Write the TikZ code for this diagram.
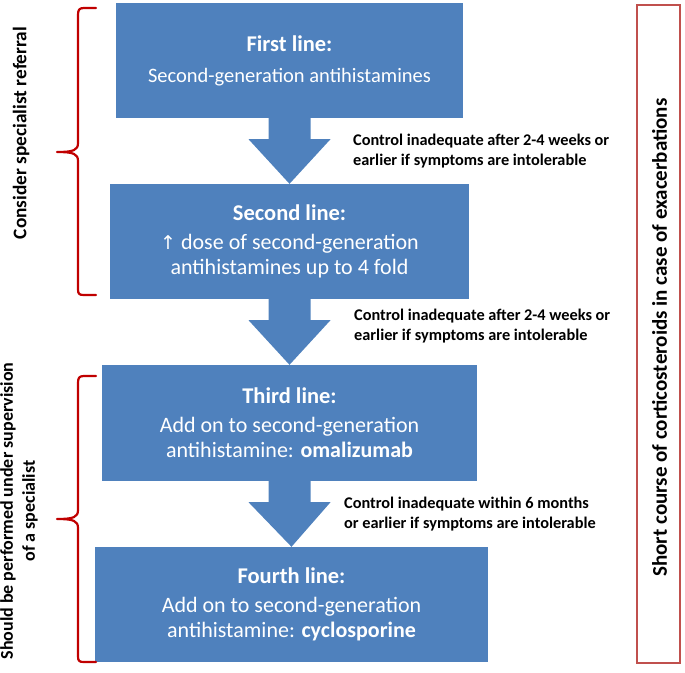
\documentclass[tikz,border=0pt]{standalone}
\usepackage{fontspec}
\setmainfont{Carlito}
\newfontfamily\symfont{DejaVu Sans}
\usetikzlibrary{calc}
\definecolor{boxblue}{HTML}{4F81BD}
\definecolor{brred}{HTML}{C00000}
\definecolor{frred}{HTML}{C0504D}
\newcommand{\hdr}[1]{{\bfseries\fontsize{22.5}{26}\selectfont #1}}
\begin{document}
\begin{tikzpicture}[x=1pt,y=-1pt,
  stagebox/.style={fill=boxblue,draw=none,text=white,align=center,inner sep=0pt,
    font=\fontsize{22}{25}\selectfont},
  blockarrow/.style={fill=boxblue,draw=none},
  steplabel/.style={anchor=west,align=left,inner sep=0pt,
    font=\bfseries\fontsize{16.3}{19.5}\selectfont},
  sidelabel/.style={rotate=90,align=center,inner sep=0pt},
  brace/.style={draw=brred,line width=2.2pt,line cap=round,line join=round}]
\useasboundingbox (0,0) rectangle (685,672);

% boxes
\node[stagebox,minimum width=347pt,minimum height=115pt,font=\fontsize{20.5}{25}\selectfont] (b1) at (289.5,60.5)
  {\hdr{First line:}\\[6pt]Second-generation antihistamines};
\node[stagebox,minimum width=359pt,minimum height=115pt] (b2) at (289.5,241.5)
  {\hdr{Second line:}\\[4pt]{\symfont\fontsize{19}{22}\selectfont ↑} dose of second-generation\\antihistamines up to 4 fold};
\node[stagebox,minimum width=375pt,minimum height=116pt] (b3) at (289.5,423)
  {\hdr{Third line:}\\[4pt]Add on to second-generation\\antihistamine: \textbf{omalizumab}};
\node[stagebox,minimum width=393pt,minimum height=115pt] (b4) at (291.5,604.5)
  {\hdr{Fourth line:}\\[4pt]Add on to second-generation\\antihistamine: \textbf{cyclosporine}};

% block arrows
\foreach \a/\b in {b1/b2,b2/b3,b3/b4}{
  \fill[blockarrow]
    ($(\a.south)+(-21,0)$) -- ($(\a.south)+(21,0)$) --
    ($(\a.south)+(21,21)$) -- ($(\a.south)+(41,21)$) --
    (\b.north) --
    ($(\a.south)+(-41,21)$) -- ($(\a.south)+(-21,21)$) -- cycle;
}

% step labels
\node[steplabel] (l1) at (353,151) {Control inadequate after 2-4 weeks or\\earlier if symptoms are intolerable};
\node[steplabel] (l2) at (354,326) {Control inadequate after 2-4 weeks or\\earlier if symptoms are intolerable};
\node[steplabel] (l3) at (344,514) {Control inadequate within 6 months\\or earlier if symptoms are intolerable};

% braces
\coordinate (br1t) at (96,8);
\coordinate (br1m) at (57,152);
\coordinate (br1b) at (96,295);
\draw[brace] (br1t) -- (84,8) .. controls (79,8) and (78,10) .. (78,15)
  -- (78,143) .. controls (78,150) and (74,152) .. (br1m)
  .. controls (74,152) and (78,154) .. (78,161)
  -- (78,289) .. controls (78,294) and (79,295) .. (84,295) -- (br1b);
\coordinate (br2t) at (96,376);
\coordinate (br2m) at (57,519);
\coordinate (br2b) at (96,662);
\draw[brace] (br2t) -- (84,376) .. controls (79,376) and (78,378) .. (78,383)
  -- (78,510) .. controls (78,517) and (74,519) .. (br2m)
  .. controls (74,519) and (78,521) .. (78,528)
  -- (78,656) .. controls (78,661) and (79,662) .. (84,662) -- (br2b);

% side labels
\node[sidelabel,font=\bfseries\fontsize{19.3}{22}\selectfont] (s1) at (21,133) {Consider specialist referral};
\node[sidelabel,font=\bfseries\fontsize{18}{22}\selectfont] (s2) at (19,511) {Should be performed under supervision\\of a specialist};

% right frame
\node[draw=frred,line width=2.6pt,minimum width=43pt,minimum height=658pt,inner sep=0pt] (rf) at (658.5,334) {};
\node[rotate=90,inner sep=0pt,font=\bfseries\fontsize{21}{24}\selectfont] (rt) at (659.5,337.5) {Short course of corticosteroids in case of exacerbations};
\end{tikzpicture}
\end{document}
